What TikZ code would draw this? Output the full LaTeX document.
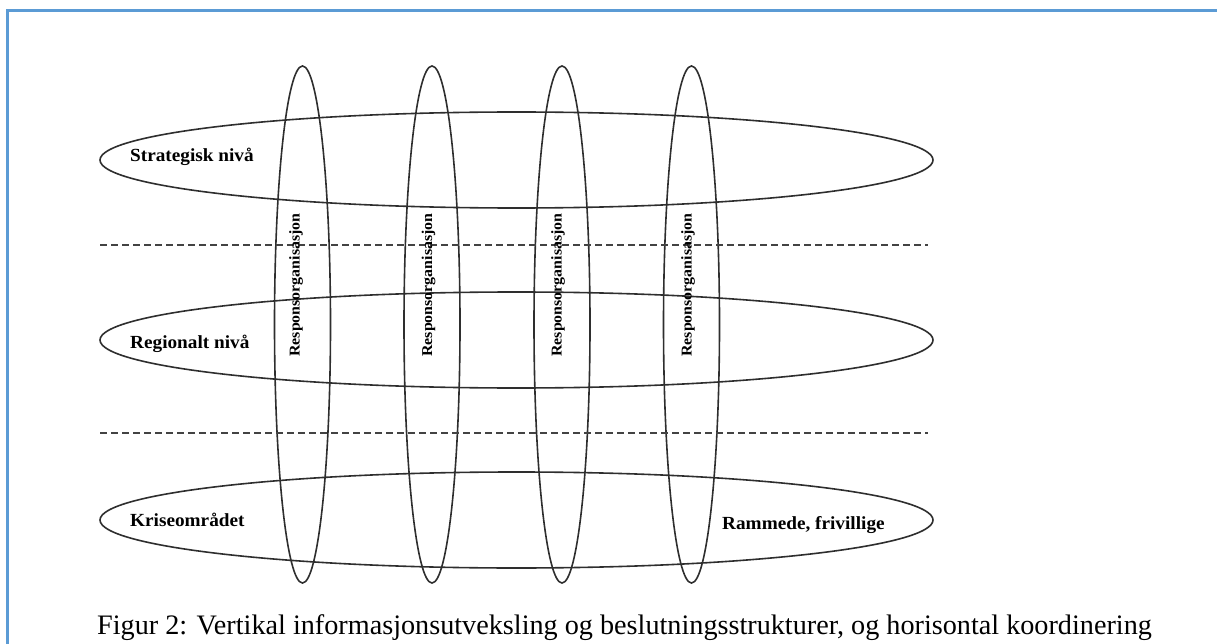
\documentclass[tikz,border=0pt]{standalone}
\usepackage{fontspec}
\setmainfont{Liberation Serif}
\usetikzlibrary{shapes.geometric}

\definecolor{framecol}{HTML}{5B9BD5}
\definecolor{inkcol}{HTML}{2E2E2E}

\tikzset{
  level/.style={ellipse, draw=inkcol, line width=1.6pt, minimum width=833pt,
    minimum height=96pt, inner sep=0pt},
  column/.style={ellipse, draw=inkcol, line width=1.6pt, minimum width=56pt,
    minimum height=517pt, inner sep=0pt},
  levellabel/.style={anchor=west, inner sep=0pt, xscale=1.04,
    font=\bfseries\fontsize{18.5}{21}\selectfont},
  columnlabel/.style={rotate=90, inner sep=0pt, xscale=1.06,
    font=\bfseries\fontsize{15}{17}\selectfont},
  divider/.style={draw=inkcol!90, line width=2.2pt, dash pattern=on 7pt off 4pt},
}

\begin{document}
\begin{tikzpicture}[x=1pt, y=-1pt]
  \useasboundingbox (0,0) rectangle (1217,644);

  % page frame
  \coordinate (f1) at (7.5,644);
  \coordinate (f2) at (7.5,10.5);
  \coordinate (f3) at (1217,10.5);
  \draw[framecol, line width=2.4pt] (f1) -- (f2) -- (f3);

  % horizontal levels
  \node[level] (strat) at (516.5,160) {};
  \node[level] (reg)   at (516.5,340) {};
  \node[level] (krise) at (516.5,520) {};

  % vertical response organisations
  \node[column] (c1) at (302.5,324.5) {};
  \node[column] (c2) at (432,324.5) {};
  \node[column] (c3) at (562,324.5) {};
  \node[column] (c4) at (691.5,324.5) {};

  % dashed separators
  \coordinate (d1a) at (100,245);
  \coordinate (d1b) at (928,245);
  \coordinate (d2a) at (100,433);
  \coordinate (d2b) at (928,433);
  \draw[divider] (d1a) -- (d1b);
  \draw[divider] (d2a) -- (d2b);

  % level labels
  \node[levellabel] (ls) at (130,157) {Strategisk nivå};
  \node[levellabel] (lr) at (130,344) {Regionalt nivå};
  \node[levellabel] (lk) at (130,520) {Kriseområdet};
  \node[levellabel] (lf) at (722,525) {Rammede, frivillige};

  % column labels
  \node[columnlabel] (r1) at (296,285) {Responsorganisasjon};
  \node[columnlabel] (r2) at (428.5,285) {Responsorganisasjon};
  \node[columnlabel] (r3) at (558,285) {Responsorganisasjon};
  \node[columnlabel] (r4) at (688,285) {Responsorganisasjon};

  % caption
  \node[anchor=base west, inner sep=0pt, font=\fontsize{28.2}{32}\selectfont] (cap) at (97,634)
    {Figur 2: Vertikal informasjonsutveksling og beslutningsstrukturer, og horisontal koordinering};
\end{tikzpicture}
\end{document}
